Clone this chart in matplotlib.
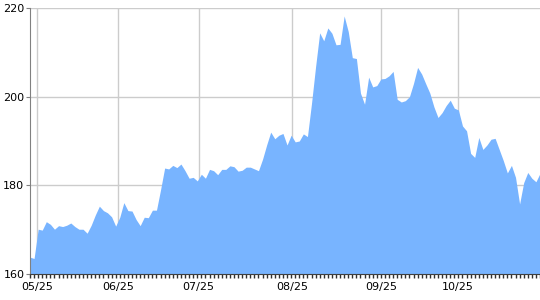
import matplotlib
matplotlib.use("Agg")
import matplotlib.pyplot as plt
import numpy as np

# closing values, one per trading day
prices = [
    163.8, 163.5, 170.1, 169.9, 171.8, 171.2, 170.1, 170.9, 170.7, 171.0,
    171.5, 170.7, 170.1, 170.1, 169.2, 171.0, 173.3, 175.3, 174.3, 173.8,
    172.9, 170.8, 172.8, 176.1, 174.3, 174.2, 172.3, 170.9, 172.8, 172.7,
    174.4, 174.4,
    179.0, 183.9, 183.7, 184.5, 184.0, 184.8, 183.3, 181.6, 181.8, 181.0,
    182.5, 181.6, 183.6, 183.3, 182.4, 183.6, 183.6, 184.4, 184.2, 183.2,
    183.4, 184.1, 184.1, 183.7, 183.3, 185.9, 189.1, 192.0, 190.5, 191.3,
    191.7,
    189.1, 191.3, 189.8, 190.0, 191.6, 191.0, 198.5, 206.8, 214.4, 212.6,
    215.5, 214.3, 211.7, 211.8, 218.2, 214.7, 208.8, 208.6, 200.8, 198.3,
    204.4, 202.2, 202.5, 204.0, 204.1, 204.7, 205.7, 199.4, 198.8, 199.1,
    200.0,
    203.0, 206.6, 205.1, 202.9, 200.8, 197.7, 195.3, 196.4, 198.0, 199.2,
    197.4, 197.0, 193.4, 192.3, 187.2, 186.3, 190.8, 188.1, 189.1, 190.4,
    190.6, 188.1, 185.6, 182.8, 184.5, 181.8, 175.8, 180.6, 182.9, 181.6,
    180.8, 182.7,
]
month_labels = ["05/25", "06/25", "07/25", "08/25", "09/25", "10/25"]
month_pos = [1.8, 21.5, 41.3, 64.3, 86.1, 104.9]
y_ticks = [160, 180, 200, 220]

x = np.arange(len(prices))

fig = plt.figure(figsize=(5.4, 3.0), dpi=100)
ax = fig.add_axes([30 / 540, 26 / 300, 510 / 540, 266 / 300])

ax.fill_between(x, prices, 160, color="#78b4ff", lw=0, zorder=2)

ax.set_xlim(0, len(prices) - 1)
ax.set_ylim(160, 220)
ax.set_yticks(y_ticks)
ax.set_xticks(month_pos)
ax.set_xticklabels(month_labels)
ax.set_xticks(x, minor=True)

ax.grid(True, color="#cccccc", lw=1, zorder=0)
ax.set_axisbelow(True)

for s in ["right", "top"]:
    ax.spines[s].set_visible(False)
ax.spines["left"].set_color("#808080")
ax.spines["bottom"].set_color("#404040")

ax.tick_params(axis="y", length=3, color="#808080", labelsize=8, pad=1)
ax.tick_params(axis="x", which="major", length=0, labelsize=8, pad=6)
ax.tick_params(axis="x", which="minor", length=3, width=1, color="#303030")

fig.savefig("out.png", dpi=100)
